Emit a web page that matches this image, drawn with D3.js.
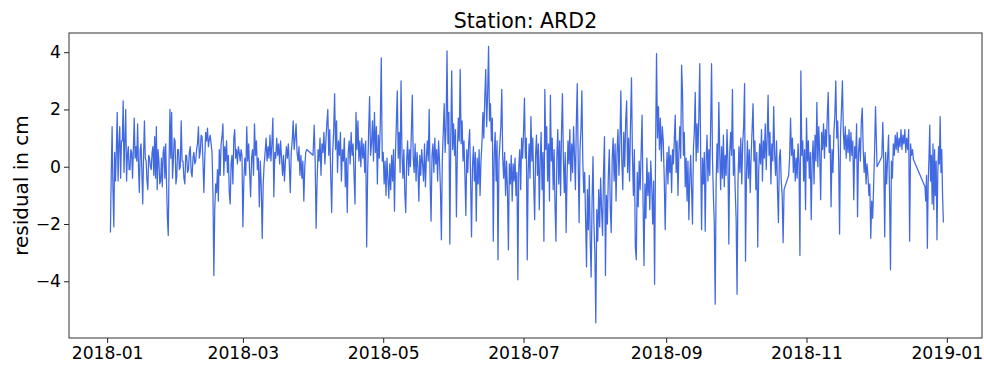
<!DOCTYPE html>
<html>
<head>
<meta charset="utf-8">
<script src="https://cdn.jsdelivr.net/npm/d3@7"></script>
<style>
  body { margin: 0; background: #fff; }
  svg { display: block; }
  text { font-family: "DejaVu Sans", sans-serif; fill: #000; }
</style>
</head>
<body>
<svg id="chart" width="984" height="365"></svg>
<script>
// Residual time series, station ARD2, 2018
const title = "Station: ARD2";
const yLabel = "residual in cm";
const yTicks = [-4, -2, 0, 2, 4];
const xTicks = ["2018-01-01", "2018-03-01", "2018-05-01", "2018-07-01", "2018-09-01", "2018-11-01", "2019-01-01"];

const seriesStart = "2018-01-02T10:00";
const seriesEnd = "2018-12-30T12:00";

// Periods without samples; each null in a month list marks the next one.
const gaps = [
  ["2018-03-28T18:00", "2018-03-31T12:00"],
  ["2018-10-22T06:00", "2018-10-24T06:00"],
  ["2018-12-01T16:00", "2018-12-03T18:00"],
  ["2018-12-17T12:00", "2018-12-22T12:00"]
];

// Residuals in cm, evenly spread through each month
const jan = [-2.3,-0.2,1.4,-0.8,-2.1,0.5,-0.5,0.6,1.9,-0.5,0.8,1.4,-0.4,0.9,0.9,2.3,-0.2,0.9,2.0,-0.5,0.4,0.7,-0.1,-0.1,0.6,0.5,-0.4,0.6,1.7,0.3,0.7,0.2,1.5,0.0,-0.9,0.6,0.8,-0.2,-1.3,0.4,1.6,0.3,0.2,-0.5,-0.8,0.4,0.3,0.0,-0.1,0.5,0.7,-0.3,1.05,-0.4,1.4,-0.8,0.6,0.2,-0.6,-0.5,0.3,-0.7,0.5,0.7,-0.4,0.8,-0.6,-1.8,-2.4,0.2,2.0,0.3,1.9,-0.4,0.2,1.0,0.9,-0.6,-0.35,0.6];
const feb = [0.6,-0.1,0.0,1.6,0.2,0.2,-0.4,-0.6,0.4,0.4,-0.2,-0.1,0.5,0.7,-0.2,-0.35,0.3,0.5,0.1,0.2,0.6,0.8,1.4,0.3,0.5,1.1,1.05,0.2,-0.9,0.3,1.2,0.9,1.35,0.7,0.95,1.1,0.8,0.5,-0.9,-3.8,-1.5,-0.6,-0.9,-0.1,-1.2,0.6,-0.3,0.8,1.05,1.5,-0.3,0.7,0.2,0.9,-0.2,0.4,-0.9,-1.3,0.1,0.4,-0.6,1.0,1.3,0.3,0.6,0.1,0.7,0.5,0.2,0.6,0.4];
const mar = [-2.1,-0.5,0.3,-0.3,1.4,0.2,0.8,-0.2,-1.05,0.3,0.6,-0.3,1.5,0.4,0.9,-0.1,0.3,-1.4,0.2,-0.7,-2.5,-0.6,0.1,0.5,1.0,0.2,0.7,0.3,1.1,0.2,0.8,1.7,-1.05,0.5,0.3,1.0,0.4,0.8,0.1,0.9,0.3,-0.3,0.4,-0.5,0.2,0.7,0.3,0.8,0.1,-0.9,0.5,0.9,1.6,0.6,1.0,1.5,0.5,0.2,0.7,-0.3,0.4,-0.4,0.2,-1.2,0.0,0.5,0.6,null,0.4];
const apr = [1.45,0.2,-2.15,-0.5,0.6,0.2,1.0,-0.3,0.8,0.5,1.2,0.1,0.9,1.5,2.0,0.4,1.3,-0.3,-1.6,0.5,1.2,2.55,0.6,1.6,-0.2,0.9,0.4,1.2,-0.5,0.6,0.2,1.0,-0.7,0.3,-1.6,0.5,0.9,0.1,1.2,0.4,0.8,-0.3,-1.3,1.9,0.6,1.6,0.2,0.9,0.0,1.0,0.3,0.8,-0.2,0.9,-2.8,-0.2,1.2,2.45,0.4,0.8,1.6,0.2,1.9,0.5,1.4,-0.6,1.1,0.3,1.5,3.8,0.2];
const may = [0.5,-0.6,0.2,-1.0,0.3,-0.4,-1.1,0.1,-0.8,0.4,-0.5,0.6,-1.55,0.4,1.5,2.65,0.3,1.2,-0.2,3.0,0.5,-0.4,0.6,-0.9,-1.6,0.2,0.9,-0.3,0.6,0.0,1.2,2.5,0.3,-0.2,0.8,-0.5,0.5,0.0,-1.2,0.4,-0.3,0.6,0.1,-0.5,0.8,-0.7,0.3,0.9,0.2,2.0,-0.5,-1.9,0.4,0.8,-0.2,1.0,0.1,0.6,-0.5,0.9,0.2,-0.8,-2.55,0.3,1.2,2.2,0.5,1.4,4.05,0.8,1.9,-2.7,1.0,3.35,0.6,1.5];
const jun = [0.4,1.3,-1.75,0.5,1.7,0.9,3.4,0.8,1.6,0.2,0.9,-0.3,-1.7,0.6,-0.2,0.8,1.3,-0.4,-2.45,0.0,0.7,-0.5,0.5,-1.9,0.3,-0.6,0.6,-1.0,0.2,0.8,1.9,1.0,2.4,3.4,1.4,2.5,4.2,1.6,2.2,0.9,1.7,-2.6,0.4,1.2,-0.5,0.9,-3.25,0.2,0.8,1.4,2.7,0.3,-0.4,0.5,-1.0,0.2,-0.8,-2.9,0.1,-0.6,0.4,-1.2,0.1,-0.5,0.3,-1.0,-0.2,-3.95,0.0,0.6,-0.8,1.0,0.3];
const jul = [1.2,2.4,0.3,1.0,-3.25,-0.2,0.8,-0.4,1.75,0.2,1.0,-0.6,-1.85,0.4,1.1,-0.3,0.8,-1.5,0.2,1.2,-0.8,0.5,-2.6,2.7,0.6,1.4,-0.5,0.8,-1.2,2.5,0.2,1.0,-0.8,0.6,-1.4,-2.6,0.4,1.3,-0.6,0.9,-1.0,1.2,2.55,0.3,-0.9,0.5,-2.3,-0.3,0.9,0.1,1.3,-0.5,0.8,-0.2,1.4,0.4,-0.8,1.5,2.9,0.3,-1.95,0.6,1.3,2.65,0.2,-0.9,-0.2,-1.8,-3.5,-0.8,-2.2,-0.3,-2.6,-3.85,-1.2,0.35,-2.0];
const aug = [-3.0,-5.45,-1.5,-2.6,-0.8,-2.1,-0.4,-1.5,-2.4,-0.2,1.05,-3.8,-1.0,-2.0,-0.3,0.6,-1.4,-2.3,0.3,1.0,-0.5,0.8,-1.2,0.5,1.3,-0.3,0.9,2.65,0.2,-0.8,1.2,0.0,1.6,2.3,-0.2,1.0,-0.5,1.5,3.1,0.4,-1.0,0.6,-2.8,-3.25,-0.2,-1.4,0.2,-0.8,0.5,1.8,-1.2,-3.45,-0.6,-1.8,0.3,-1.0,-0.2,-1.5,0.2,-0.6,-2.0,-0.5,-4.1,0.5,3.95,1.0,2.1,0.6,1.7,0.2,1.4,0.9,-0.4,-2.2];
const sep = [-0.3,0.5,-0.6,0.7,-0.2,0.4,-0.9,0.6,0.1,1.0,1.8,-0.2,0.9,-1.0,0.5,1.4,0.3,3.55,2.6,0.4,1.2,-0.7,0.3,-1.2,0.2,-1.85,-0.4,0.4,-0.8,-2.0,0.6,1.2,2.6,0.2,1.5,0.5,1.8,3.6,0.4,-2.2,0.3,-0.6,0.5,-2.25,0.2,1.1,-0.5,0.6,-0.3,1.4,3.6,0.3,-1.0,-2.0,-4.8,-0.6,0.8,-0.2,2.25,0.5,-0.8,0.7,-0.4,1.1,-0.7,0.4,-0.3,1.3,0.2,-2.7,0.5,1.2,0.4,2.7,-0.3,0.6];
const oct = [-0.8,-1.8,-4.45,-0.5,0.7,-0.2,1.0,-0.6,0.8,1.4,2.9,-3.3,-0.3,0.9,-0.4,0.6,-0.9,0.4,1.3,2.2,0.2,0.9,-0.8,0.5,-2.8,-0.2,0.8,0.1,1.3,-0.5,0.9,0.3,1.5,-0.1,1.0,2.5,0.4,1.2,-0.6,0.8,0.2,2.1,0.4,-0.3,0.9,-0.8,-1.95,0.3,0.6,-0.5,-1.0,-2.65,-0.8,null,-0.3,0.3,1.7,0.4,1.0,-0.2,0.6,-0.5,0.3,-0.4,0.8,0.1,-3.1,3.35,0.4,0.9,-0.5,0.6,-1.5];
const nov = [1.7,0.2,0.9,-0.4,0.5,-1.85,0.3,0.9,-0.6,1.1,0.2,2.25,0.0,1.4,0.4,-1.15,1.2,0.6,1.5,0.3,1.3,0.7,1.8,2.6,0.5,1.1,-1.4,0.6,-0.2,1.2,1.8,3.0,1.0,1.6,0.3,-2.35,1.1,2.0,3.0,1.2,0.6,1.4,0.3,1.1,0.5,1.3,0.2,1.2,0.4,0.9,-1.15,0.7,0.3,1.5,-1.75,0.5,1.0,0.2,1.6,2.05,0.6,-0.2,0.5,-0.6,0.1,-0.3,-1.0,-0.6,-2.5,-1.2,-1.8,-0.7,0.5];
const dec = [2.1,0.0,null,0.35,1.55,0.2,-2.45,0.5,-0.6,0.3,1.1,-0.8,-3.6,0.2,-0.4,0.8,0.4,1.1,0.6,1.2,0.5,1.0,0.7,1.3,0.6,1.1,0.8,1.3,0.5,1.0,0.6,1.3,-2.6,0.8,0.4,0.6,0.25,null,-0.7,-1.2,-0.3,-2.85,-0.6,0.3,1.45,-0.5,0.4,-1.3,0.8,-1.5,0.6,-1.0,0.2,-2.55,-0.3,0.7,0.1,1.75,-0.2,0.6,-1.0,-1.95];

const monthly = [jan, feb, mar, apr, may, jun, jul, aug, sep, oct, nov, dec];

const parseTime = d3.utcParse("%Y-%m-%dT%H:%M");
const parseDay = d3.utcParse("%Y-%m-%d");

// Turn the monthly lists into timestamped samples, skipping over gaps
const gapSpans = gaps.map(g => g.map(parseTime));
const samples = [];
let gapIndex = 0;
monthly.forEach((vals, m) => {
  const from = m === 0 ? parseTime(seriesStart) : new Date(Date.UTC(2018, m, 1));
  const to = m === 11 ? parseTime(seriesEnd) : new Date(Date.UTC(2018, m + 1, 1));
  const pieces = [[]];
  vals.forEach(v => v === null ? pieces.push([]) : pieces[pieces.length - 1].push(v));
  let a = from;
  pieces.forEach((piece, k) => {
    const beforeGap = k < pieces.length - 1;
    const b = beforeGap ? gapSpans[gapIndex][0] : to;
    const n = piece.length;
    const denom = (beforeGap || m === 11) ? Math.max(n - 1, 1) : n;
    piece.forEach((v, i) => samples.push({ t: new Date(+a + (i / denom) * (b - a)), v }));
    if (beforeGap) { a = gapSpans[gapIndex][1]; gapIndex++; }
  });
});

// Layout
const svg = d3.select("#chart");
const margin = { top: 33, right: 2, bottom: 27, left: 69 };
const W = 984, H = 365;
const innerW = W - margin.left - margin.right;
const innerH = H - margin.top - margin.bottom;

const x = d3.scaleUtc()
  .domain([parseTime("2017-12-15T10:00"), parseTime("2019-01-16T07:00")])
  .range([0, innerW]);
const y = d3.scaleLinear()
  .domain([-5.98, 4.67])
  .range([innerH, 0]);

const g = svg.append("g").attr("transform", `translate(${margin.left},${margin.top})`);

// Series
g.append("path")
  .datum(samples)
  .attr("fill", "none")
  .attr("stroke", "#4169e1")
  .attr("stroke-width", 1.25)
  .attr("stroke-linejoin", "round")
  .attr("d", d3.line().x(d => x(d.t)).y(d => y(d.v)));

// Axes
const xAxis = d3.axisBottom(x)
  .tickValues(xTicks.map(parseDay))
  .tickFormat(d3.utcFormat("%Y-%m"))
  .tickSize(5)
  .tickPadding(4);
const yAxis = d3.axisLeft(y)
  .tickValues(yTicks)
  .tickFormat(d3.format("d"))
  .tickSize(5)
  .tickPadding(3);

const gx = g.append("g").attr("transform", `translate(0,${innerH})`).call(xAxis);
const gy = g.append("g").call(yAxis);
[gx, gy].forEach(ax => {
  ax.select(".domain").remove();
  ax.selectAll(".tick line").attr("stroke", "#222").attr("stroke-width", 1);
  ax.selectAll(".tick text")
    .attr("fill", "#111")
    .style("font-size", "17.2px")
    .style("font-family", "'DejaVu Sans', sans-serif");
});

// Frame
g.append("rect")
  .attr("x", 0).attr("y", 0)
  .attr("width", innerW).attr("height", innerH)
  .attr("fill", "none")
  .attr("stroke", "#333")
  .attr("stroke-width", 1);

// Title and axis label
svg.append("text")
  .attr("x", margin.left + innerW / 2)
  .attr("y", 28)
  .attr("text-anchor", "middle")
  .style("font-size", "20.5px")
  .text(title);

svg.append("text")
  .attr("transform", `translate(28,${margin.top + innerH / 2}) rotate(-90)`)
  .attr("text-anchor", "middle")
  .style("font-size", "20px")
  .text(yLabel);
</script>
</body>
</html>
